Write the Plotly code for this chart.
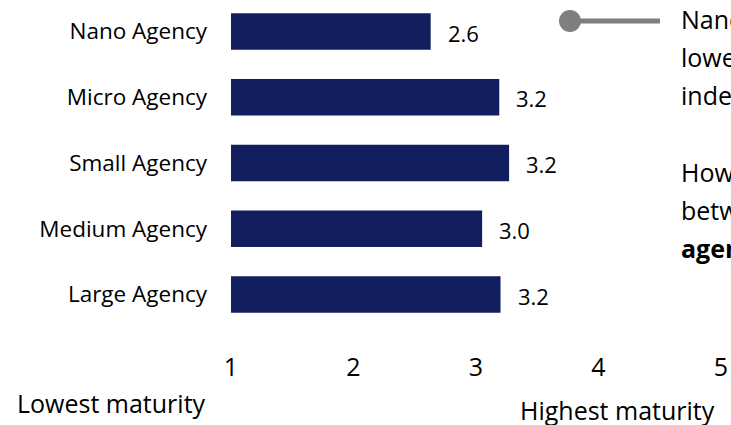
import plotly.graph_objects as go

# ---- data ----
categories = ["Nano Agency", "Micro Agency", "Small Agency", "Medium Agency", "Large Agency"]
scores = [2.63, 3.19, 3.27, 3.05, 3.20]
score_labels = ["2.6", "3.2", "3.2", "3.0", "3.2"]
scale_ticks = [1, 2, 3, 4, 5]
scale_min = 1
scale_max = 5
note_lines = [
    "Nano agencies have the",
    "lowest maturity",
    "index score.",
    "However, the difference",
    "between the other",
    "<b>agencies</b> is small.",
]

# ---- layout geometry (pixels) ----
W, H = 731, 425
ML, MR, MT, MB = 231, 10, 0, 75
PW, PH = W - ML - MR, H - MT - MB
FONT = "Open Sans"
NAVY = "#131E5F"


def px_x(p):
    return (p - ML) / PW


def px_y(p):
    return 1 - (p - MT) / PH


fig = go.Figure()
fig.add_trace(go.Bar(
    y=categories,
    x=[s - scale_min for s in scores],
    base=scale_min,
    orientation="h",
    marker=dict(color=NAVY, line=dict(width=0)),
    width=0.555,
    hoverinfo="skip",
    showlegend=False,
))

annotations = []
for c, s, lab in zip(categories, scores, score_labels):
    annotations.append(dict(
        x=s, y=c, xref="x", yref="y", text=lab, showarrow=False,
        xanchor="left", yanchor="middle", xshift=15, yshift=-1,
        font=dict(family=FONT, size=22, color="#000000"),
    ))

# axis end titles
annotations.append(dict(
    x=px_x(15), y=px_y(403), xref="paper", yref="paper", text="Lowest maturity",
    showarrow=False, xanchor="left", yanchor="middle",
    font=dict(family=FONT, size=25, color="#000000"),
))
annotations.append(dict(
    x=px_x(518), y=px_y(410), xref="paper", yref="paper", text="Highest maturity",
    showarrow=False, xanchor="left", yanchor="middle",
    font=dict(family=FONT, size=25, color="#000000"),
))

# side note text
line_y = [19, 57, 95, 172, 210, 248]
for t, yy in zip(note_lines, line_y):
    annotations.append(dict(
        x=px_x(679), y=px_y(yy), xref="paper", yref="paper", text=t,
        showarrow=False, xanchor="left", yanchor="middle",
        font=dict(family=FONT, size=25, color="#000000"),
    ))

shapes = [
    dict(type="line", xref="paper", yref="paper",
         x0=px_x(570), x1=px_x(660), y0=px_y(21), y1=px_y(21),
         line=dict(color="#7F7F7F", width=5)),
    dict(type="circle", xref="paper", yref="paper",
         x0=px_x(559), x1=px_x(581), y0=px_y(32), y1=px_y(10),
         fillcolor="#7F7F7F", line=dict(width=0)),
]

fig.update_layout(
    width=W, height=H,
    margin=dict(l=ML, r=MR, t=MT, b=MB, pad=0),
    paper_bgcolor="white", plot_bgcolor="white",
    font=dict(family=FONT, color="#000000"),
    bargap=0.445,
    annotations=annotations,
    shapes=shapes,
    xaxis=dict(
        range=[scale_min, scale_max], tickvals=scale_ticks,
        showgrid=False, zeroline=False, showline=False, ticks="",
        tickfont=dict(family=FONT, size=25, color="#000000"),
        ticklabelstandoff=0,
        fixedrange=True,
    ),
    yaxis=dict(
        type="category", categoryorder="array", categoryarray=categories,
        range=[4.844, -0.479],
        showgrid=False, zeroline=False, showline=False, ticks="",
        tickfont=dict(family=FONT, size=22.5, color="#000000"),
        ticklabelstandoff=23,
        fixedrange=True,
    ),
)

fig.write_html("out.html", config={"displayModeBar": False})
